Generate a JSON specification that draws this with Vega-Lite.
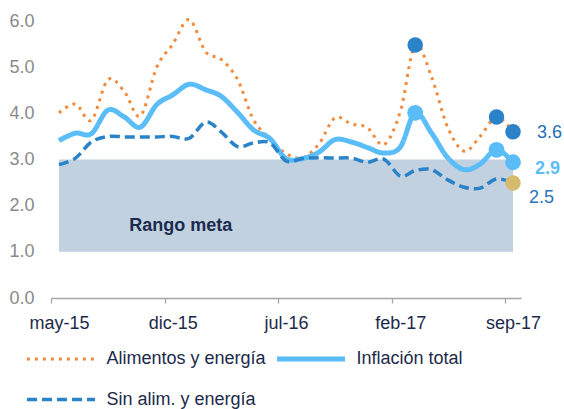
{
  "$schema": "https://vega.github.io/schema/vega-lite/v6.json",
  "width": 470,
  "height": 277,
  "autosize": "none",
  "padding": {"left": 51, "top": 21, "right": 43, "bottom": 111},
  "config": {
    "font": "Liberation Sans",
    "view": {"stroke": null},
    "legend": {"padding": 0}
  },
  "data": {
    "values": [
      {"fecha": "2015-05-01", "serie": "Alimentos y energía", "valor": 4.01},
      {"fecha": "2015-06-01", "serie": "Alimentos y energía", "valor": 4.20},
      {"fecha": "2015-07-01", "serie": "Alimentos y energía", "valor": 3.85},
      {"fecha": "2015-08-01", "serie": "Alimentos y energía", "valor": 4.73},
      {"fecha": "2015-09-01", "serie": "Alimentos y energía", "valor": 4.47},
      {"fecha": "2015-10-01", "serie": "Alimentos y energía", "valor": 3.94},
      {"fecha": "2015-11-01", "serie": "Alimentos y energía", "valor": 5.00},
      {"fecha": "2015-12-01", "serie": "Alimentos y energía", "valor": 5.50},
      {"fecha": "2016-01-01", "serie": "Alimentos y energía", "valor": 6.03},
      {"fecha": "2016-02-01", "serie": "Alimentos y energía", "valor": 5.33},
      {"fecha": "2016-03-01", "serie": "Alimentos y energía", "valor": 5.17},
      {"fecha": "2016-04-01", "serie": "Alimentos y energía", "valor": 4.73},
      {"fecha": "2016-05-01", "serie": "Alimentos y energía", "valor": 3.86},
      {"fecha": "2016-06-01", "serie": "Alimentos y energía", "valor": 3.45},
      {"fecha": "2016-07-01", "serie": "Alimentos y energía", "valor": 3.13},
      {"fecha": "2016-08-01", "serie": "Alimentos y energía", "valor": 3.04},
      {"fecha": "2016-09-01", "serie": "Alimentos y energía", "valor": 3.34},
      {"fecha": "2016-10-01", "serie": "Alimentos y energía", "valor": 3.90},
      {"fecha": "2016-11-01", "serie": "Alimentos y energía", "valor": 3.77},
      {"fecha": "2016-12-01", "serie": "Alimentos y energía", "valor": 3.69},
      {"fecha": "2017-01-01", "serie": "Alimentos y energía", "valor": 3.32},
      {"fecha": "2017-02-01", "serie": "Alimentos y energía", "valor": 4.04},
      {"fecha": "2017-03-01", "serie": "Alimentos y energía", "valor": 5.48},
      {"fecha": "2017-04-01", "serie": "Alimentos y energía", "valor": 4.78},
      {"fecha": "2017-05-01", "serie": "Alimentos y energía", "valor": 3.70},
      {"fecha": "2017-06-01", "serie": "Alimentos y energía", "valor": 3.18},
      {"fecha": "2017-07-01", "serie": "Alimentos y energía", "valor": 3.50},
      {"fecha": "2017-08-01", "serie": "Alimentos y energía", "valor": 3.92},
      {"fecha": "2017-09-01", "serie": "Alimentos y energía", "valor": 3.60},
      {"fecha": "2015-05-01", "serie": "Inflación total", "valor": 3.41},
      {"fecha": "2015-06-01", "serie": "Inflación total", "valor": 3.57},
      {"fecha": "2015-07-01", "serie": "Inflación total", "valor": 3.56},
      {"fecha": "2015-08-01", "serie": "Inflación total", "valor": 4.07},
      {"fecha": "2015-09-01", "serie": "Inflación total", "valor": 3.92},
      {"fecha": "2015-10-01", "serie": "Inflación total", "valor": 3.70},
      {"fecha": "2015-11-01", "serie": "Inflación total", "valor": 4.19},
      {"fecha": "2015-12-01", "serie": "Inflación total", "valor": 4.40},
      {"fecha": "2016-01-01", "serie": "Inflación total", "valor": 4.63},
      {"fecha": "2016-02-01", "serie": "Inflación total", "valor": 4.51},
      {"fecha": "2016-03-01", "serie": "Inflación total", "valor": 4.37},
      {"fecha": "2016-04-01", "serie": "Inflación total", "valor": 4.02},
      {"fecha": "2016-05-01", "serie": "Inflación total", "valor": 3.64},
      {"fecha": "2016-06-01", "serie": "Inflación total", "valor": 3.45},
      {"fecha": "2016-07-01", "serie": "Inflación total", "valor": 3.02},
      {"fecha": "2016-08-01", "serie": "Inflación total", "valor": 3.02},
      {"fecha": "2016-09-01", "serie": "Inflación total", "valor": 3.16},
      {"fecha": "2016-10-01", "serie": "Inflación total", "valor": 3.43},
      {"fecha": "2016-11-01", "serie": "Inflación total", "valor": 3.38},
      {"fecha": "2016-12-01", "serie": "Inflación total", "valor": 3.26},
      {"fecha": "2017-01-01", "serie": "Inflación total", "valor": 3.14},
      {"fecha": "2017-02-01", "serie": "Inflación total", "valor": 3.27},
      {"fecha": "2017-03-01", "serie": "Inflación total", "valor": 4.01},
      {"fecha": "2017-04-01", "serie": "Inflación total", "valor": 3.57},
      {"fecha": "2017-05-01", "serie": "Inflación total", "valor": 3.04},
      {"fecha": "2017-06-01", "serie": "Inflación total", "valor": 2.78},
      {"fecha": "2017-07-01", "serie": "Inflación total", "valor": 2.90},
      {"fecha": "2017-08-01", "serie": "Inflación total", "valor": 3.21},
      {"fecha": "2017-09-01", "serie": "Inflación total", "valor": 2.94},
      {"fecha": "2015-05-01", "serie": "Sin alim. y energía", "valor": 2.89},
      {"fecha": "2015-06-01", "serie": "Sin alim. y energía", "valor": 3.03},
      {"fecha": "2015-07-01", "serie": "Sin alim. y energía", "valor": 3.38},
      {"fecha": "2015-08-01", "serie": "Sin alim. y energía", "valor": 3.50},
      {"fecha": "2015-09-01", "serie": "Sin alim. y energía", "valor": 3.49},
      {"fecha": "2015-10-01", "serie": "Sin alim. y energía", "valor": 3.49},
      {"fecha": "2015-11-01", "serie": "Sin alim. y energía", "valor": 3.49},
      {"fecha": "2015-12-01", "serie": "Sin alim. y energía", "valor": 3.50},
      {"fecha": "2016-01-01", "serie": "Sin alim. y energía", "valor": 3.46},
      {"fecha": "2016-02-01", "serie": "Sin alim. y energía", "valor": 3.81},
      {"fecha": "2016-03-01", "serie": "Sin alim. y energía", "valor": 3.60},
      {"fecha": "2016-04-01", "serie": "Sin alim. y energía", "valor": 3.28},
      {"fecha": "2016-05-01", "serie": "Sin alim. y energía", "valor": 3.36},
      {"fecha": "2016-06-01", "serie": "Sin alim. y energía", "valor": 3.36},
      {"fecha": "2016-07-01", "serie": "Sin alim. y energía", "valor": 2.97},
      {"fecha": "2016-08-01", "serie": "Sin alim. y energía", "valor": 3.02},
      {"fecha": "2016-09-01", "serie": "Sin alim. y energía", "valor": 3.04},
      {"fecha": "2016-10-01", "serie": "Sin alim. y energía", "valor": 3.03},
      {"fecha": "2016-11-01", "serie": "Sin alim. y energía", "valor": 3.03},
      {"fecha": "2016-12-01", "serie": "Sin alim. y energía", "valor": 2.94},
      {"fecha": "2017-01-01", "serie": "Sin alim. y energía", "valor": 3.01},
      {"fecha": "2017-02-01", "serie": "Sin alim. y energía", "valor": 2.64},
      {"fecha": "2017-03-01", "serie": "Sin alim. y energía", "valor": 2.76},
      {"fecha": "2017-04-01", "serie": "Sin alim. y energía", "valor": 2.78},
      {"fecha": "2017-05-01", "serie": "Sin alim. y energía", "valor": 2.56},
      {"fecha": "2017-06-01", "serie": "Sin alim. y energía", "valor": 2.40},
      {"fecha": "2017-07-01", "serie": "Sin alim. y energía", "valor": 2.38},
      {"fecha": "2017-08-01", "serie": "Sin alim. y energía", "valor": 2.58},
      {"fecha": "2017-09-01", "serie": "Sin alim. y energía", "valor": 2.49}
    ]
  },
  "encoding": {
    "x": {
      "field": "fecha",
      "type": "temporal",
      "scale": {
        "type": "utc",
        "domain": [
          {"year": 2015, "month": 4, "date": 16, "utc": true},
          {"year": 2017, "month": 9, "date": 16, "utc": true}
        ]
      },
      "axis": {
        "title": null,
        "grid": false,
        "values": [
          {"year": 2015, "month": 5, "date": 1, "utc": true},
          {"year": 2015, "month": 12, "date": 1, "utc": true},
          {"year": 2016, "month": 7, "date": 1, "utc": true},
          {"year": 2017, "month": 2, "date": 1, "utc": true},
          {"year": 2017, "month": 9, "date": 1, "utc": true}
        ],
        "labelExpr": "['ene','feb','mar','abr','may','jun','jul','ago','sep','oct','nov','dic'][utcmonth(datum.value)] + '-' + utcFormat(datum.value, '%y')",
        "tickOffset": -8.1,
        "labelOffset": 8.1,
        "tickSize": 5,
        "tickColor": "#a6a6a6",
        "tickWidth": 1.3,
        "domainColor": "#a6a6a6",
        "domainWidth": 1.5,
        "labelFontSize": 18,
        "labelColor": "#1b2a4a",
        "labelPadding": 11,
        "labelFlush": false,
        "labelOverlap": false
      }
    },
    "y": {
      "field": "valor",
      "type": "quantitative",
      "scale": {"domain": [0, 6], "nice": false, "zero": true},
      "axis": {
        "title": null,
        "values": [0, 1, 2, 3, 4, 5, 6],
        "format": ".1f",
        "domain": false,
        "ticks": false,
        "grid": false,
        "labelFontSize": 18,
        "labelColor": "#8a8a8a",
        "labelPadding": 17
      }
    }
  },
  "layer": [
    {
      "data": {"values": [{"fecha": "2015-05-01", "fin": "2017-09-01", "bajo": 1, "alto": 3}]},
      "mark": {"type": "rect", "color": "#c2d1e0"},
      "encoding": {
        "x2": {"field": "fin"},
        "y": {"field": "bajo", "type": "quantitative"},
        "y2": {"field": "alto"}
      }
    },
    {
      "data": {"values": [{"fecha": "2015-12-16", "valor": 1.57, "texto": "Rango meta"}]},
      "mark": {"type": "text", "fontSize": 18, "fontWeight": "bold", "color": "#1a2b4f", "align": "center", "baseline": "middle"},
      "encoding": {"text": {"field": "texto"}}
    },
    {
      "mark": {"type": "line", "interpolate": "cardinal"},
      "encoding": {
        "color": {
          "field": "serie",
          "type": "nominal",
          "scale": {
            "domain": ["Alimentos y energía", "Inflación total", "Sin alim. y energía"],
            "range": ["#f28c3c", "#5bbdf8", "#2a82c8"]
          },
          "legend": {
            "title": null,
            "orient": "none",
            "legendX": -1,
            "legendY": 327,
            "direction": "horizontal",
            "columns": 2,
            "symbolType": "M-4,0H4",
            "symbolSize": 289,
            "labelFontSize": 18,
            "labelColor": "#1b2a4a",
            "labelOffset": 34.5,
            "columnPadding": 1,
            "rowPadding": 20
          }
        },
        "strokeDash": {
          "field": "serie",
          "type": "nominal",
          "scale": {
            "domain": ["Alimentos y energía", "Inflación total", "Sin alim. y energía"],
            "range": [[3, 5], [1, 0], [10, 5]]
          }
        },
        "strokeWidth": {
          "field": "serie",
          "type": "nominal",
          "scale": {
            "type": "ordinal",
            "domain": ["Alimentos y energía", "Inflación total", "Sin alim. y energía"],
            "range": [3, 5, 3.5]
          }
        }
      }
    },
    {
      "transform": [{"filter": "datum.serie == 'Alimentos y energía' && utcyear(datum.fecha) == 2017 && indexof([2, 7, 8], utcmonth(datum.fecha)) >= 0"}],
      "mark": {"type": "point", "filled": true, "opacity": 1, "size": 240, "color": "#2a82c8"}
    },
    {
      "transform": [{"filter": "datum.serie == 'Inflación total' && utcyear(datum.fecha) == 2017 && indexof([2, 7, 8], utcmonth(datum.fecha)) >= 0"}],
      "mark": {"type": "point", "filled": true, "opacity": 1, "size": 250, "color": "#5bbdf8"}
    },
    {
      "transform": [{"filter": "datum.serie == 'Sin alim. y energía' && utcyear(datum.fecha) == 2017 && utcmonth(datum.fecha) == 8"}],
      "mark": {"type": "point", "filled": true, "opacity": 1, "size": 240, "color": "#d6bb6e"}
    },
    {
      "transform": [{"filter": "datum.serie == 'Alimentos y energía' && utcyear(datum.fecha) == 2017 && utcmonth(datum.fecha) == 8"}],
      "mark": {"type": "text", "fontSize": 18, "color": "#1f6eb5", "align": "left", "baseline": "middle", "dx": 24, "dy": 1},
      "encoding": {"text": {"field": "valor", "type": "quantitative", "format": ".1f"}}
    },
    {
      "transform": [{"filter": "datum.serie == 'Inflación total' && utcyear(datum.fecha) == 2017 && utcmonth(datum.fecha) == 8"}],
      "mark": {"type": "text", "fontSize": 18, "fontWeight": "bold", "color": "#5bbdf8", "align": "left", "baseline": "middle", "dx": 22, "dy": 7},
      "encoding": {"text": {"field": "valor", "type": "quantitative", "format": ".1f"}}
    },
    {
      "transform": [{"filter": "datum.serie == 'Sin alim. y energía' && utcyear(datum.fecha) == 2017 && utcmonth(datum.fecha) == 8"}],
      "mark": {"type": "text", "fontSize": 18, "color": "#2a74bb", "align": "left", "baseline": "middle", "dx": 16, "dy": 15},
      "encoding": {"text": {"field": "valor", "type": "quantitative", "format": ".1f"}}
    }
  ]
}
